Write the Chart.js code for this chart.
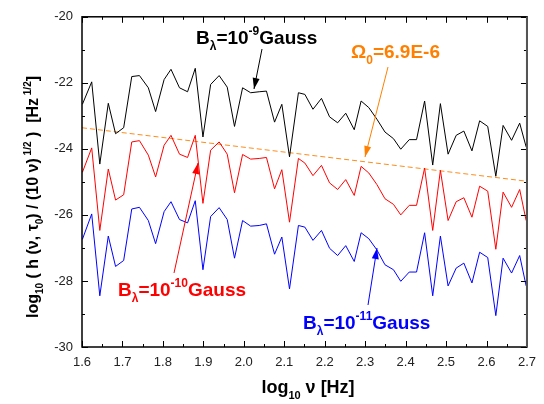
<!DOCTYPE html>
<html>
<head>
<meta charset="utf-8">
<script src="https://cdn.jsdelivr.net/npm/chart.js@4"></script>
<style>
  body { margin:0; background:#fff; }
  #wrap { width:544px; height:404px; position:relative; }
</style>
</head>
<body>
<div id="wrap"><canvas id="c"></canvas></div>
<script>
// log10 nu values
const xs = [1.601,1.624,1.644,1.665,1.683,1.703,1.723,1.742,1.764,1.782,1.803,1.820,1.841,1.861,1.880,1.899,1.918,1.939,1.959,1.977,
  1.997,2.017,2.038,2.056,2.076,2.094,2.113,2.135,2.151,2.171,2.192,2.212,2.232,2.252,2.273,2.290,2.309,2.329,2.349,2.370,
  2.388,2.409,2.427,2.447,2.467,2.486,2.505,2.525,2.544,2.564,2.583,2.603,2.623,2.641,2.662,2.682,2.698];

const b9 = [-22.65,-21.97,-24.46,-22.62,-23.54,-23.36,-21.81,-21.78,-22.15,-22.87,-21.90,-21.59,-22.15,-22.27,-21.56,-23.64,-22.05,-21.78,-22.13,-23.32,
  -22.15,-22.30,-22.27,-22.25,-23.19,-22.65,-24.24,-22.30,-22.35,-22.80,-22.47,-23.03,-23.21,-22.92,-23.42,-22.55,-22.75,-23.10,-23.49,-23.69,
  -24.01,-23.72,-23.72,-22.55,-24.49,-22.63,-24.16,-23.59,-23.46,-24.06,-23.15,-23.32,-24.83,-23.29,-23.74,-23.22,-23.94];

const b10 = [-24.71,-23.97,-26.47,-24.61,-25.55,-25.39,-23.79,-23.75,-24.19,-24.85,-23.89,-23.59,-24.16,-24.26,-23.59,-25.65,-24.04,-23.79,-24.16,-25.33,
  -24.17,-24.31,-24.29,-24.26,-25.21,-24.63,-26.22,-24.29,-24.43,-24.81,-24.50,-25.03,-25.23,-24.93,-25.41,-24.53,-24.73,-25.08,-25.51,-25.68,
  -26.00,-25.71,-25.71,-24.58,-26.47,-24.65,-26.17,-25.60,-25.48,-26.07,-25.13,-25.28,-27.04,-25.31,-25.77,-25.23,-26.17];

const b11 = [-26.74,-25.97,-28.45,-26.64,-27.56,-27.38,-25.82,-25.77,-26.17,-26.87,-25.90,-25.60,-26.14,-26.24,-25.57,-27.66,-26.05,-25.78,-26.14,-27.31,
  -26.17,-26.34,-26.32,-26.27,-27.19,-26.67,-28.24,-26.32,-26.37,-26.77,-26.47,-27.01,-27.23,-26.93,-27.41,-26.54,-26.72,-27.06,-27.51,-27.66,
  -28.01,-27.73,-27.73,-26.54,-28.45,-26.64,-28.15,-27.61,-27.46,-28.06,-27.13,-27.29,-29.05,-27.31,-27.76,-27.23,-28.15];

// Omega_0 = 6.9E-6 reference line
const omegaX = [1.6, 2.7];
const omegaY = [-23.36, -24.98];

const xTicks = [1.6,1.7,1.8,1.9,2.0,2.1,2.2,2.3,2.4,2.5,2.6,2.7];
const yTicks = [-30,-28,-26,-24,-22,-20];

const pts = (xa, ya) => xa.map((x, i) => ({ x, y: ya[i] }));

const FONT = 'Arial, "Liberation Sans", sans-serif';

// draw text with sub/superscript parts; parts = [[text, 'n'|'sub'|'sup'], ...]
function richWidth(ctx, parts, size){
  let w = 0;
  parts.forEach(([t, k]) => { ctx.font = 'bold ' + (k === 'n' ? size : Math.round(size*0.62)) + 'px ' + FONT; w += ctx.measureText(t).width; });
  return w;
}
function rich(ctx, parts, x, y, size, color){
  ctx.fillStyle = color; ctx.textAlign = 'left'; ctx.textBaseline = 'alphabetic';
  parts.forEach(([t, k]) => {
    const s = k === 'n' ? size : Math.round(size*0.62);
    ctx.font = 'bold ' + s + 'px ' + FONT;
    const dy = k === 'sub' ? size*0.32 : k === 'sup' ? -size*0.45 : 0;
    ctx.fillText(t, x, y + dy);
    x += ctx.measureText(t).width;
  });
}
function arrow(ctx, x1, y1, x2, y2, color){
  ctx.strokeStyle = color; ctx.fillStyle = color; ctx.lineWidth = 1;
  ctx.beginPath(); ctx.moveTo(x1, y1); ctx.lineTo(x2, y2); ctx.stroke();
  const a = Math.atan2(y2 - y1, x2 - x1), L = 11, W = 3.5;
  ctx.beginPath();
  ctx.moveTo(x2, y2);
  ctx.lineTo(x2 - L*Math.cos(a) + W*Math.sin(a), y2 - L*Math.sin(a) - W*Math.cos(a));
  ctx.lineTo(x2 - L*Math.cos(a) - W*Math.sin(a), y2 - L*Math.sin(a) + W*Math.cos(a));
  ctx.closePath(); ctx.fill();
}

const decor = {
  id: 'decor',
  afterDraw(chart){
    const ctx = chart.ctx, a = chart.chartArea, xs_ = chart.scales.x, ys_ = chart.scales.y;
    ctx.save();
    // ticks, inward on all four sides
    ctx.strokeStyle = '#000'; ctx.lineWidth = 1;
    for (let i = 0; i <= 22; i++){
      const v = 1.6 + i*0.05, px = Math.round(xs_.getPixelForValue(v)) + 0.5, len = i % 2 ? 3 : 6;
      ctx.beginPath(); ctx.moveTo(px, a.bottom); ctx.lineTo(px, a.bottom - len); ctx.stroke();
      ctx.beginPath(); ctx.moveTo(px, a.top); ctx.lineTo(px, a.top + len); ctx.stroke();
    }
    for (let v = -30; v <= -20; v++){
      const py = Math.round(ys_.getPixelForValue(v)) + 0.5, len = v % 2 ? 3 : 6;
      ctx.beginPath(); ctx.moveTo(a.left, py); ctx.lineTo(a.left + len, py); ctx.stroke();
      ctx.beginPath(); ctx.moveTo(a.right, py); ctx.lineTo(a.right - len, py); ctx.stroke();
    }
    // frame
    ctx.lineWidth = 1.5; ctx.strokeStyle = '#000';
    ctx.strokeRect(a.left, a.top, a.right - a.left, a.bottom - a.top);
    ctx.strokeStyle = '#555'; ctx.lineWidth = 2;
    ctx.beginPath(); ctx.moveTo(a.right, a.top); ctx.lineTo(a.right, a.bottom); ctx.stroke();

    // annotations
    rich(ctx, [['B','n'],['λ','sub'],['=10','n'],['-9','sup'],['Gauss','n']], 196, 44, 19, '#000');
    arrow(ctx, 262, 49, 254, 89, '#000');
    rich(ctx, [['Ω','n'],['0','sub'],['=6.9E-6','n']], 351, 58, 19, '#ff8000');
    arrow(ctx, 388, 67, 365, 157, '#ff8000');
    rich(ctx, [['B','n'],['λ','sub'],['=10','n'],['-10','sup'],['Gauss','n']], 118, 296, 19, '#ff0000');
    arrow(ctx, 174, 273, 198, 163, '#ff0000');
    rich(ctx, [['B','n'],['λ','sub'],['=10','n'],['-11','sup'],['Gauss','n']], 303, 329, 19, '#0000ff');
    arrow(ctx, 368, 305, 377, 248, '#0000ff');

    // axis titles
    const xt = [['log','n'],['10','sub'],[' ν [Hz]','n']];
    rich(ctx, xt, 308 - richWidth(ctx, xt, 18)/2, 393, 18, '#000');
    const yt = [['log','n'],['10','sub'],[' ( h (ν, τ','n'],['0','sub'],[') / (10 ν)','n'],[' 1/2','sup'],[' )  [Hz','n'],[' 1/2','sup'],[']','n']];
    ctx.translate(38, 197); ctx.rotate(-Math.PI/2);
    rich(ctx, yt, -richWidth(ctx, yt, 16)/2, 0, 16, '#000');
    ctx.restore();
  }
};

new Chart(document.getElementById('c'), {
  type: 'line',
  data: {
    datasets: [
      { data: pts(xs, b9), borderColor: '#000', borderWidth: 1 },
      { data: pts(xs, b10), borderColor: '#ff0000', borderWidth: 1 },
      { data: pts(xs, b11), borderColor: '#0000ff', borderWidth: 1 },
      { data: pts(omegaX, omegaY), borderColor: '#ff8c1a', borderWidth: 1, borderDash: [5, 3] }
    ]
  },
  options: {
    responsive: true, maintainAspectRatio: false, animation: false,
    layout: { padding: { top: 11, right: 10, left: 0, bottom: 0 } },
    elements: { point: { radius: 0 }, line: { tension: 0 } },
    plugins: { legend: { display: false }, tooltip: { enabled: false } },
    scales: {
      x: {
        type: 'linear', min: 1.6, max: 2.7,
        afterFit: s => { s.height = 57; },
        afterBuildTicks: s => { s.ticks = xTicks.map(v => ({ value: v })); },
        grid: { display: false, drawTicks: false }, border: { display: false },
        ticks: { padding: 8, color: '#222', font: { size: 13, family: FONT }, callback: v => v.toFixed(1), maxRotation: 0, autoSkip: false }
      },
      y: {
        min: -30, max: -20,
        afterFit: s => { s.width = 82; },
        afterBuildTicks: s => { s.ticks = yTicks.map(v => ({ value: v })); },
        grid: { display: false, drawTicks: false }, border: { display: false },
        ticks: { padding: 9, color: '#222', font: { size: 13, family: FONT }, callback: v => String(v) }
      }
    }
  },
  plugins: [decor]
});
</script>
</body>
</html>
